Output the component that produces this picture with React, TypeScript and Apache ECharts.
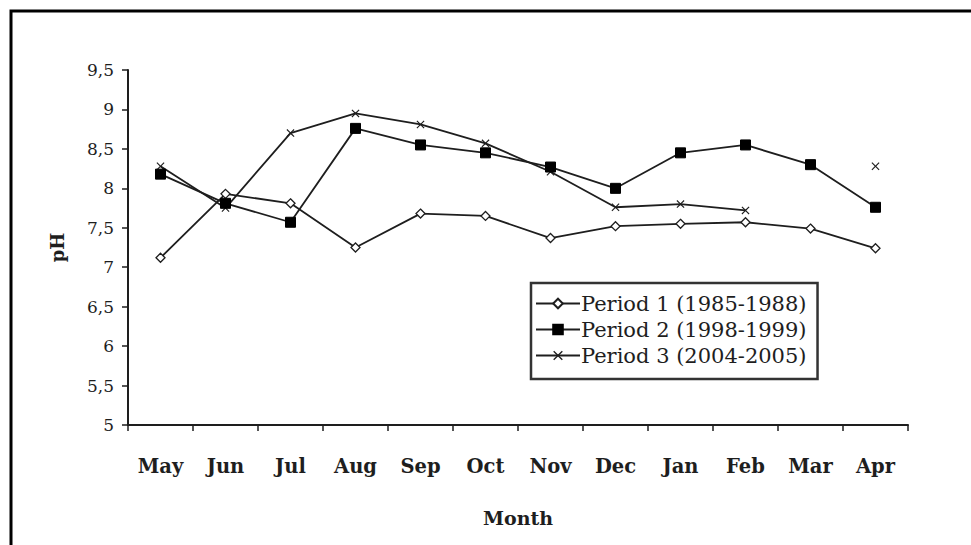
import React, { useEffect, useRef } from "react";
import * as echarts from "echarts";

const months = ["May", "Jun", "Jul", "Aug", "Sep", "Oct", "Nov", "Dec", "Jan", "Feb", "Mar", "Apr"];
const period1 = [7.12, 7.93, 7.81, 7.25, 7.68, 7.65, 7.37, 7.52, 7.55, 7.57, 7.49, 7.24];
const period2 = [8.18, 7.81, 7.57, 8.76, 8.55, 8.45, 8.27, 8.0, 8.45, 8.55, 8.3, 7.76];
const period3 = [8.28, 7.75, 8.7, 8.95, 8.81, 8.57, 8.21, 7.76, 7.8, 7.72, null, 8.28];
const seriesNames = ["Period 1 (1985-1988)", "Period 2 (1998-1999)", "Period 3 (2004-2005)"];

const FONT = "DejaVu Serif";
const INK = "#1e1e1e";
const crossPath = "path://M0,1L1,0L5,4L9,0L10,1L6,5L10,9L9,10L5,6L1,10L0,9L4,5Z";

export default function App() {
  const ref = useRef<HTMLDivElement>(null);
  useEffect(() => {
    if (!ref.current) return;
    const chart = echarts.init(ref.current, null, { renderer: "svg" });
    const lineBase = { type: "line", showSymbol: true, showAllSymbol: true, connectNulls: false, lineStyle: { color: INK, width: 1.8 } };
    chart.setOption({
      animation: false,
      backgroundColor: "#fff",
      grid: { left: 128, right: 63, top: 70, bottom: 120, containLabel: false },
      xAxis: {
        type: "category",
        data: months,
        boundaryGap: true,
        axisLine: { lineStyle: { color: INK, width: 2 } },
        axisTick: { show: true, inside: false, length: 6, alignWithLabel: false, lineStyle: { color: INK, width: 1.5 } },
        axisLabel: { color: INK, fontFamily: FONT, fontWeight: "bold", fontSize: 19.5, margin: 31 },
        name: "Month",
        nameLocation: "middle",
        nameGap: 83,
        nameTextStyle: { color: INK, fontFamily: FONT, fontWeight: "bold", fontSize: 19 },
      },
      yAxis: {
        type: "value",
        min: 5,
        max: 9.5,
        interval: 0.5,
        splitLine: { show: false },
        axisLine: { show: true, lineStyle: { color: INK, width: 2 } },
        axisTick: { show: true, inside: false, length: 6, lineStyle: { color: INK, width: 1.5 } },
        axisLabel: {
          color: INK,
          fontFamily: FONT,
          fontSize: 17,
          margin: 14,
          formatter: (v: number) => String(v).replace(".", ","),
        },
        name: "pH",
        nameLocation: "middle",
        nameGap: 62,
        nameRotate: 90,
        nameTextStyle: { color: INK, fontFamily: FONT, fontWeight: "bold", fontSize: 18 },
      },
      legend: {
        left: 531,
        top: 283,
        orient: "vertical",
        data: seriesNames,
        borderColor: "#333",
        borderWidth: 2.5,
        padding: [10, 11, 13, 4],
        itemGap: 5,
        itemWidth: 44,
        itemHeight: 12,
        textStyle: { color: INK, fontFamily: FONT, fontSize: 21, padding: [0, 0, 0, -4] },
      },
      graphic: [
        {
          type: "rect",
          shape: { x: 11, y: 11, width: 990, height: 600 },
          style: { fill: "none", stroke: "#000", lineWidth: 3 },
          silent: true,
        },
      ],
      series: [
        {
          ...lineBase,
          name: seriesNames[0],
          data: period1,
          symbol: "diamond",
          symbolSize: 9,
          itemStyle: { color: "#fff", borderColor: INK, borderWidth: 1.3 },
          z: 2,
        },
        {
          ...lineBase,
          name: seriesNames[1],
          data: period2,
          symbol: "rect",
          symbolSize: 10,
          itemStyle: { color: "#000", borderColor: "#000", borderWidth: 1 },
          z: 4,
        },
        {
          ...lineBase,
          name: seriesNames[2],
          data: period3,
          symbol: crossPath,
          symbolSize: 8,
          itemStyle: { color: INK, borderColor: INK, borderWidth: 0 },
          z: 3,
        },
      ],
    });
    return () => chart.dispose();
  }, []);
  return <div ref={ref} style={{ position: "fixed", left: 0, top: 0, width: 971, height: 545 }} />;
}
